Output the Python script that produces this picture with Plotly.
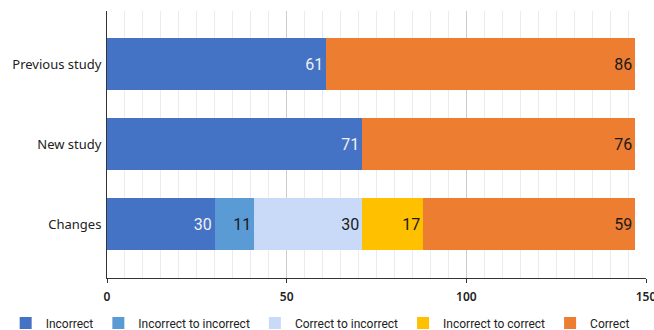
import plotly.graph_objects as go

categories = ["Previous study", "New study", "Changes"]
series_names = ["Incorrect", "Incorrect to incorrect", "Correct to incorrect", "Incorrect to correct", "Correct"]
series_values = {
    "Incorrect": [61, 71, 30],
    "Incorrect to incorrect": [None, None, 11],
    "Correct to incorrect": [None, None, 30],
    "Incorrect to correct": [None, None, 17],
    "Correct": [86, 76, 59],
}
colors = {
    "Incorrect": "#4472C4",
    "Incorrect to incorrect": "#5B9BD5",
    "Correct to incorrect": "#C9DAF8",
    "Incorrect to correct": "#FFC000",
    "Correct": "#ED7D31",
}
text_colors = {
    "Incorrect": "#f0f0f0",
    "Incorrect to incorrect": "#1a1a1a",
    "Correct to incorrect": "#1a1a1a",
    "Incorrect to correct": "#1a1a1a",
    "Correct": "#1a1a1a",
}
x_ticks = [0, 50, 100, 150]

fig = go.Figure()
for name in series_names:
    vals = series_values[name]
    fig.add_trace(go.Bar(
        name=name,
        y=categories,
        x=vals,
        orientation="h",
        marker=dict(color=colors[name], line=dict(width=0)),
        text=[str(v) if v is not None else "" for v in vals],
        textposition="inside",
        insidetextanchor="end",
        textangle=0,
        insidetextfont=dict(family="Roboto", size=16, color=text_colors[name]),
        width=0.65,
    ))

fig.update_layout(
    barmode="stack",
    width=654, height=330,
    margin=dict(l=107, r=8, t=11, b=52, autoexpand=False),
    plot_bgcolor="white",
    paper_bgcolor="white",
    showlegend=True,
    legend=dict(
        orientation="h",
        x=-0.188, xanchor="left",
        y=-0.169, yanchor="middle",
        font=dict(family="Roboto", size=12, color="#222"),
        traceorder="normal",
        itemwidth=30,
    ),
    xaxis=dict(
        range=[0, 150],
        tickvals=x_ticks,
        ticktext=[str(t) for t in x_ticks],
        ticklabeloverflow="allow",
        ticklabelstandoff=4,
        automargin=False,
        showgrid=True,
        gridcolor="#cccccc",
        gridwidth=1,
        minor=dict(dtick=5, showgrid=True, gridcolor="#ebebeb", gridwidth=1),
        showline=True,
        linecolor="#333333",
        linewidth=1,
        ticks="outside",
        ticklen=4,
        tickcolor="#333333",
        tickfont=dict(family="Noto Sans", size=12, color="#222", weight=600),
        zeroline=False,
        fixedrange=True,
    ),
    yaxis=dict(
        categoryorder="array",
        categoryarray=list(reversed(categories)),
        range=[-0.675, 2.6625],
        automargin=False,
        showline=True,
        linecolor="#333333",
        linewidth=1,
        showgrid=False,
        ticks="",
        ticklabelstandoff=2,
        tickfont=dict(family="Noto Sans", size=13, color="#222"),
        fixedrange=True,
    ),
)

fig.write_html("out.html")
